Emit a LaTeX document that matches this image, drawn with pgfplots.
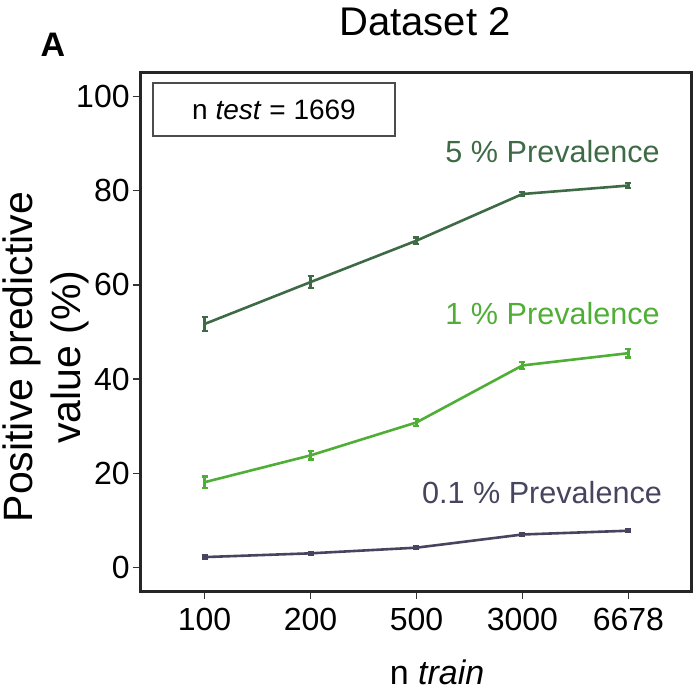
\documentclass[border=0pt]{standalone}
\usepackage{pgfplots}
\pgfplotsset{compat=1.18}
\usepackage{fontspec}
\setmainfont{Liberation Sans}
\definecolor{c5}{HTML}{3E6B45}
\definecolor{c1}{HTML}{4FAE35}
\definecolor{c01}{HTML}{46445E}
\begin{document}
\begin{tikzpicture}[x=0.5pt,y=0.5pt]
\useasboundingbox (0,0) rectangle (694,697);
\begin{axis}[
 at={(70.5pt,53pt)}, anchor=south west, scale only axis,
 width=275.5pt, height=259pt,
 xmin=-0.6, xmax=4.6, ymin=-5, ymax=105,
 xtick={0,...,4}, xticklabels={100,200,500,3000,6678},
 ytick={0,20,...,100},
 axis line style={line width=1.5pt, black!85},
 tick style={line width=0.6pt, black!80},
 tick align=outside, major tick length=4pt,
 xtick pos=bottom, ytick pos=left,
 ticklabel style={font=\fontsize{16}{18}\selectfont},
 yticklabel style={inner sep=1.5pt},
 xticklabel style={yshift=-1pt},
 /pgf/number format/assume math mode=true,
 clip=false,
]
\addplot[c5, line width=1.3pt, mark=none, error bars/.cd, y dir=both, y explicit,
 error bar style={line width=1.2pt}, error mark options={rotate=90, mark size=1.5pt, line width=1.2pt}]
 table[x=x,y=y,y error=e] {
x y e
0 51.7 1.5
1 60.6 1.3
2 69.4 0.7
3 79.3 0.4
4 81.1 0.5
};
\addplot[c1, line width=1.3pt, mark=none, error bars/.cd, y dir=both, y explicit,
 error bar style={line width=1.2pt}, error mark options={rotate=90, mark size=1.5pt, line width=1.2pt}]
 table[x=x,y=y,y error=e] {
x y e
0 18.1 1.2
1 23.8 0.9
2 30.8 0.7
3 42.9 0.7
4 45.5 0.9
};
\addplot[c01, line width=1.3pt, mark=none, error bars/.cd, y dir=both, y explicit,
 error bar style={line width=1.2pt}, error mark options={rotate=90, mark size=1.5pt, line width=1.2pt}]
 table[x=x,y=y,y error=e] {
x y e
0 2.2 0.3
1 3.0 0.3
2 4.2 0.3
3 7.0 0.3
4 7.8 0.3
};
\node[anchor=east, inner sep=0pt, text=c5, font=\fontsize{15.3}{17}\selectfont] at (axis cs:4.30,88.3) {5 \% Prevalence};
\node[anchor=east, inner sep=0pt, text=c1, font=\fontsize{15.3}{17}\selectfont] at (axis cs:4.30,53.9) {1 \% Prevalence};
\node[anchor=east, inner sep=0pt, text=c01, font=\fontsize{15.3}{17}\selectfont] at (axis cs:4.32,15.9) {0.1 \% Prevalence};
\end{axis}
\draw[black!70, line width=0.75pt] (153,614) rectangle (395,561);
\node[font=\fontsize{14}{16}\selectfont] at (274,587.5) {n \textit{test} = 1669};
\node[font=\fontsize{20}{24}\selectfont] at (425,675) {Dataset 2};
\node[font=\bfseries\fontsize{17}{20}\selectfont] at (53,652) {A};
\node[font=\fontsize{17}{20}\selectfont] at (437,25) {n \textit{train}};
\node[rotate=90, align=center, inner sep=0pt, font=\fontsize{20.5}{24}\selectfont] at (46,340) {Positive predictive\\value (\%)};
\end{tikzpicture}
\end{document}
